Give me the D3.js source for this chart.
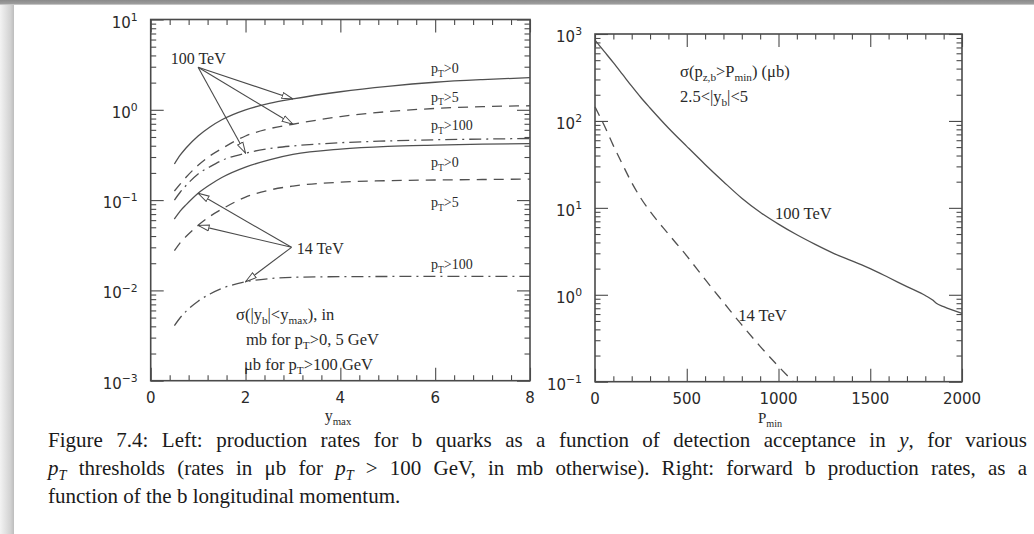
<!DOCTYPE html>
<html><head><meta charset="utf-8">
<script src="https://cdn.jsdelivr.net/npm/d3@7"></script>
<style>
html,body{margin:0;padding:0;background:#fff;}
svg{display:block;}
</style></head><body>
<svg id="c" width="1034" height="534"></svg>
<script>
// ---------------- data ----------------
const yMaxValues = [0.5, 0.625, 0.75, 1, 1.25, 1.5, 2, 2.5, 3, 4, 5, 6, 7, 8];
const sig100_pt0   = [0.251, 0.316, 0.380, 0.513, 0.646, 0.776, 1.0, 1.175, 1.318, 1.585, 1.82, 2.02, 2.16, 2.27];
const sig100_pt5   = [0.126, 0.151, 0.180, 0.243, 0.309, 0.372, 0.513, 0.617, 0.692, 0.841, 0.955, 1.035, 1.084, 1.109];
const sig100_pt100 = [0.100, 0.123, 0.146, 0.195, 0.234, 0.275, 0.331, 0.372, 0.398, 0.432, 0.452, 0.466, 0.474, 0.481];
const sig14_pt0    = [0.0617, 0.0759, 0.0891, 0.119, 0.148, 0.178, 0.232, 0.279, 0.320, 0.367, 0.394, 0.407, 0.417, 0.422];
const sig14_pt5    = [0.0275, 0.0339, 0.0398, 0.0525, 0.0661, 0.0794, 0.108, 0.129, 0.143, 0.158, 0.164, 0.167, 0.169, 0.171];
const sig14_pt100  = [0.00407, 0.00501, 0.00589, 0.00759, 0.00912, 0.0105, 0.01245, 0.0135, 0.01396, 0.01419, 0.01426, 0.01429, 0.01429, 0.01429];

const pMin100 = [0,50,100,150,200,250,300,400,500,600,700,800,900,1000,1100,1200,1300,1400,1500,1600,1700,1800,1840,1860,1900,2000];
const sigP100 = [851,631,468,343,251,186,141,83,51,31.6,20,12.9,8.9,6.5,4.9,3.8,3.0,2.45,2.0,1.58,1.24,0.98,0.87,0.80,0.73,0.61];
const pMin14  = [0,50,100,150,200,250,300,400,500,600,700,800,900,1000,1080];
const sigP14  = [145,89,52,31.6,19.5,12.9,9.1,5.0,2.8,1.5,0.82,0.45,0.255,0.15,0.1];

const leftXTicks  = [0, 2, 4, 6, 8];
const leftYTicks  = [1e-3, 1e-2, 1e-1, 1, 10];
const leftYExp    = ["\u22123", "\u22122", "\u22121", "0", "1"];
const rightXTicks = [0, 500, 1000, 1500, 2000];
const rightYTicks = [0.1, 1, 10, 100, 1000];
const rightYExp   = ["\u22121", "0", "1", "2", "3"];

// ---------------- setup ----------------
const svg = d3.select("#c");
const INK = "#4a4a4a", TXT = "#2a2a2a";
const SERIF = "'Liberation Serif', 'Times New Roman', serif";
const SANS = "'DejaVu Sans', sans-serif";

// page shadow
const defs = svg.append("defs");
const gl = defs.append("linearGradient").attr("id","gl").attr("x1","0").attr("x2","1").attr("y1","0").attr("y2","0");
gl.append("stop").attr("offset","0").attr("stop-color","#f3f3f3");
gl.append("stop").attr("offset","0.75").attr("stop-color","#d2d2d2");
gl.append("stop").attr("offset","1").attr("stop-color","#bdbdbd");
const gt = defs.append("linearGradient").attr("id","gt").attr("x1","0").attr("x2","0").attr("y1","0").attr("y2","1");
gt.append("stop").attr("offset","0").attr("stop-color","#8a8a8a");
gt.append("stop").attr("offset","0.7").attr("stop-color","#9c9c9c");
gt.append("stop").attr("offset","1").attr("stop-color","#d8d8d8");
svg.append("rect").attr("x",0).attr("y",0).attr("width",14).attr("height",534).attr("fill","url(#gl)");
svg.append("rect").attr("x",0).attr("y",0).attr("width",1034).attr("height",5).attr("fill","url(#gt)");

// arrow marker (open triangle)
defs.append("marker").attr("id","arr").attr("viewBox","0 0 12 8").attr("refX",11.5).attr("refY",4)
  .attr("markerWidth",12).attr("markerHeight",8).attr("markerUnits","userSpaceOnUse").attr("orient","auto")
  .append("path").attr("d","M0.5,1 L11.5,4 L0.5,7 Z").attr("fill","#fff").attr("stroke",INK).attr("stroke-width",1);

// rich text helper: parts = [[text, "n"|"sub"|"sup"|"i"|"isub"], ...]
function rich(g, x, y, parts, size, family, anchor) {
  const t = g.append("text").attr("x", x).attr("y", y).attr("font-size", size)
    .attr("font-family", family).attr("fill", TXT).attr("text-anchor", anchor || "start");
  let shift = 0;
  parts.forEach(([s, k]) => {
    const ts = t.append("tspan").text(s);
    let target = 0, fs = size;
    if (k === "sub" || k === "isub") { target = size * 0.26; fs = size * 0.68; }
    if (k === "sup") { target = -size * 0.45; fs = size * 0.72; }
    if (k === "i" || k === "isub") ts.attr("font-style", "italic");
    ts.attr("font-size", fs).attr("dy", target - shift);
    shift = target;
  });
  return t;
}

function logMinor(dom) {
  const out = [];
  for (let e = Math.round(Math.log10(dom[0])); e < Math.round(Math.log10(dom[1])); e++)
    for (let m = 2; m <= 9; m++) out.push(m * Math.pow(10, e));
  return out;
}

function frame(g, xs, ys, xMajor, xMinor, yMajor, yMinor) {
  const [x0, x1] = xs.range(), [yb, yt] = ys.range();
  const MAJ = -13, MIN = -5.5;
  const add = (axis, tr) => g.append("g").attr("transform", tr).attr("color", INK)
      .call(axis.tickSizeOuter(0).tickFormat(""))
      .call(s => { s.select(".domain").remove(); s.selectAll("line").attr("stroke-width", 1.1); });
  add(d3.axisBottom(xs).tickValues(xMajor).tickSizeInner(MAJ), `translate(0,${yb})`);
  add(d3.axisBottom(xs).tickValues(xMinor).tickSizeInner(MIN), `translate(0,${yb})`);
  add(d3.axisTop(xs).tickValues(xMajor).tickSizeInner(MAJ), `translate(0,${yt})`);
  add(d3.axisTop(xs).tickValues(xMinor).tickSizeInner(MIN), `translate(0,${yt})`);
  add(d3.axisLeft(ys).tickValues(yMajor).tickSizeInner(MAJ), `translate(${x0},0)`);
  add(d3.axisLeft(ys).tickValues(yMinor).tickSizeInner(MIN), `translate(${x0},0)`);
  add(d3.axisRight(ys).tickValues(yMajor).tickSizeInner(MAJ), `translate(${x1},0)`);
  add(d3.axisRight(ys).tickValues(yMinor).tickSizeInner(MIN), `translate(${x1},0)`);
  g.append("rect").attr("x", x0).attr("y", yt).attr("width", x1 - x0).attr("height", yb - yt)
    .attr("fill", "none").attr("stroke", INK).attr("stroke-width", 1.6);
}

function labels(g, xs, ys, xTicks, xFmt, yTicks, yExp) {
  const [x0] = xs.range(), [yb] = ys.range();
  xTicks.forEach(v => g.append("text").attr("x", xs(v)).attr("y", yb + 22).attr("text-anchor", "middle")
    .attr("font-family", SANS).attr("font-size", 15).attr("fill", TXT).text(xFmt(v)));
  yTicks.forEach((v, i) => rich(g, x0 - 13, ys(v) + 8, [["10", "n"], [yExp[i], "sup"]], 15, SANS, "end"));
}

function curve(g, xs, ys, X, Y, dash) {
  const pts = X.map((x, i) => [xs(x), ys(Y[i])]);
  g.append("path").attr("d", d3.line().curve(d3.curveMonotoneX)(pts)).attr("fill", "none")
    .attr("stroke", "#505050").attr("stroke-width", 1.3).attr("stroke-dasharray", dash || null);
}

const DASH = "10,7", DASHDOT = "12,5,2,5";

// ---------------- left panel ----------------
const xL = d3.scaleLinear([0, 8], [150.7, 530]);
const yL = d3.scaleLog([1e-3, 10], [380.7, 19.5]);
const gL = svg.append("g");
frame(gL, xL, yL, leftXTicks, d3.range(0.4, 8, 0.4).filter(v => Math.abs(v / 2 - Math.round(v / 2)) > 0.01),
      leftYTicks, logMinor(yL.domain()));
labels(gL, xL, yL, leftXTicks, d3.format("d"), leftYTicks, leftYExp);

curve(gL, xL, yL, yMaxValues, sig100_pt0);
curve(gL, xL, yL, yMaxValues, sig100_pt5, DASH);
curve(gL, xL, yL, yMaxValues, sig100_pt100, DASHDOT);
curve(gL, xL, yL, yMaxValues, sig14_pt0);
curve(gL, xL, yL, yMaxValues, sig14_pt5, DASH);
curve(gL, xL, yL, yMaxValues, sig14_pt100, DASHDOT);

// arrows
function arrows(g, from, tips) {
  tips.forEach(([x, y]) => g.append("line").attr("x1", xL(from[0])).attr("y1", yL(from[1]))
    .attr("x2", xL(x)).attr("y2", yL(y)).attr("stroke", INK).attr("stroke-width", 1.1).attr("marker-end", "url(#arr)"));
}
arrows(gL, [1.0, 2.96], [[3, sig100_pt0[8]], [3, sig100_pt5[8]], [2, sig100_pt100[6]]]);
arrows(gL, [2.97, 0.030], [[1, sig14_pt0[3]], [1, sig14_pt5[3]], [2, sig14_pt100[6]]]);

rich(gL, 170.7, 64, [["100 TeV", "n"]], 16, SERIF);
rich(gL, 296.7, 254, [["14 TeV", "n"]], 16, SERIF);
const ptLab = [["0", 73], ["5", 101.5], ["100", 130], ["0", 167], ["5", 207], ["100", 269]];
ptLab.forEach(([v, y]) => rich(gL, 431, y, [["p", "n"], ["T", "sub"], [">" + v, "n"]], 14, SERIF));
rich(gL, 236, 319.5, [["\u03c3(|y", "n"], ["b", "sub"], ["|<y", "n"], ["max", "sub"], ["), in", "n"]], 16.5, SERIF);
rich(gL, 246, 345, [["mb for p", "n"], ["T", "sub"], [">0, 5 GeV", "n"]], 16.5, SERIF);
rich(gL, 244, 369.5, [["\u03bcb for p", "n"], ["T", "sub"], [">100 GeV", "n"]], 16.5, SERIF);
rich(gL, 338, 421, [["y", "n"], ["max", "sub"]], 16, SERIF, "middle");

// ---------------- right panel ----------------
const xR = d3.scaleLinear([0, 2000], [595, 962]);
const yR = d3.scaleLog([0.1, 1000], [381.7, 34]);
const gR = svg.append("g");
frame(gR, xR, yR, rightXTicks, d3.range(100, 2000, 100).filter(v => v % 500 !== 0),
      rightYTicks, logMinor(yR.domain()));
labels(gR, xR, yR, rightXTicks, d3.format("d"), rightYTicks, rightYExp);
curve(gR, xR, yR, pMin100, sigP100);
curve(gR, xR, yR, pMin14, sigP14, DASH);

rich(gR, 680, 77, [["\u03c3(p", "n"], ["z,b", "sub"], [">P", "n"], ["min", "sub"], [")  (\u03bcb)", "n"]], 16.5, SERIF);
rich(gR, 680, 102, [["2.5<|y", "n"], ["b", "sub"], ["|<5", "n"]], 16.5, SERIF);
rich(gR, 775, 219, [["100 TeV", "n"]], 16.5, SERIF);
rich(gR, 738.3, 320.5, [["14 TeV", "n"]], 16.5, SERIF);
rich(gR, 770, 423, [["P", "n"], ["min", "sub"]], 15, SERIF, "middle");

// ---------------- caption ----------------
const cap = svg.append("g");
const capLines = [
  [[["Figure 7.4: Left: production rates for b quarks as a function of detection acceptance in ", "n"], ["y", "i"], [", for various", "n"]], 447, true],
  [[["p", "i"], ["T", "isub"], [" thresholds (rates in \u03bcb for ", "n"], ["p", "i"], ["T", "isub"], [" > 100 GeV, in mb otherwise). Right: forward b production rates, as a", "n"]], 475, true],
  [[["function of the b longitudinal momentum.", "n"]], 503, false]
];
capLines.forEach(([parts, y, just]) => {
  const t = rich(cap, 48, y, parts, 21, SERIF);
  t.attr("fill", "#1a1a1a");
  if (just) {
    const w = t.node().getComputedTextLength();
    const n = parts.map(p => p[0]).join("").split(" ").length - 1;
    t.attr("word-spacing", Math.max(0, (1027 - 48 - w) / n));
  }
});
</script>
</body></html>
